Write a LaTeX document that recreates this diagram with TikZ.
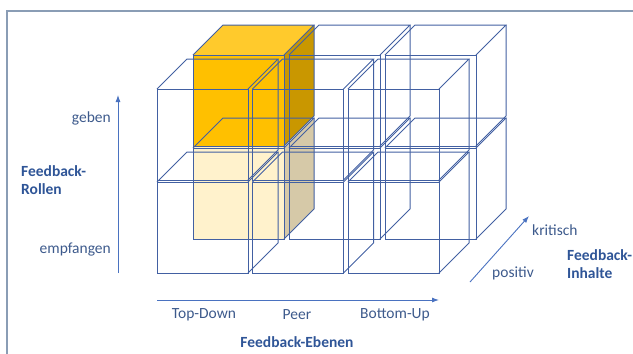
\documentclass[tikz,border=0pt]{standalone}
\usepackage{fontspec}
\setmainfont{Carlito}
\usetikzlibrary{arrows.meta}
\definecolor{cubeblue}{HTML}{4260A2}
\definecolor{axisblue}{HTML}{4A72C0}
\definecolor{lblblue}{HTML}{3D5A8C}
\definecolor{headblue}{HTML}{2F5597}
\definecolor{framec}{HTML}{8A9DB5}
\definecolor{goldfront}{HTML}{FFC000}
\definecolor{goldtop}{HTML}{FFCA2C}
\definecolor{goldside}{HTML}{C99700}
\definecolor{paleFront}{HTML}{FFF2CC}
\definecolor{paleSide}{HTML}{D6C9A8}

% cube: front face top-left corner (#1,#2), size 91, depth 30
\newcommand\cubeedges[2]{%
  \draw[edge] (#1,#2) rectangle ++(91,91);
  \draw[edge] (#1,#2) -- ++(30,-30) -- ++(91,0) -- ++(-30,30);
  \draw[edge] ({#1+91},{#2+91}) -- ++(30,-30) -- ++(0,-91);
}
\newcommand\cubefill[5]{%
  \fill[#5] (#1,#2) -- ++(30,-30) -- ++(91,0) -- ++(-30,30) -- cycle;
  \fill[#4] ({#1+91},#2) -- ++(30,-30) -- ++(0,91) -- ++(-30,30) -- cycle;
  \fill[#3] (#1,#2) rectangle ++(91,91);
}

\begin{document}
\begin{tikzpicture}[x=1pt,y=-1pt,
  edge/.style={draw=cubeblue, line width=1pt, line join=miter},
  axis/.style={draw=axisblue, line width=0.9pt, -{Latex[length=7pt,width=5pt]}},
  lbl/.style={text=lblblue, font=\fontsize{15.5}{18}\selectfont, inner sep=0pt},
  head/.style={text=headblue, font=\fontsize{15.5}{18}\selectfont\bfseries, inner sep=0pt, align=left},
]
\useasboundingbox (0,0) rectangle (633,354);

% outer frame (top and left edges)
\draw[framec, line width=1.3pt] (7,354) -- (7,11) -- (633,11);

% coloured cubes in the back layer
\cubefill{193}{148}{paleFront}{paleSide}{paleFront}
\cubefill{193}{55}{goldfront}{goldside}{goldtop}

% back layer (kritisch)
\foreach \c in {0,1,2} {
  \foreach \r in {0,1} {
    \pgfmathsetmacro\X{193+96*\c}
    \pgfmathsetmacro\Y{55+93*\r}
    \cubeedges{\X}{\Y}
  }
}
% front layer (positiv)
\foreach \c in {0,1,2} {
  \foreach \r in {0,1} {
    \pgfmathsetmacro\X{157+95.5*\c}
    \pgfmathsetmacro\Y{89+93*\r}
    \cubeedges{\X}{\Y}
  }
}

% vertical axis: Feedback-Rollen
\coordinate (vA) at (118,273);
\coordinate (vB) at (118,95);
\draw[axis] (vA) -- (vB);
\node[lbl, anchor=east] (geben) at (111,118) {geben};
\node[lbl, anchor=east] (empf) at (111,250) {empfangen};
\node[head, anchor=west] (rollen) at (21,180) {Feedback-\\Rollen};

% horizontal axis: Feedback-Ebenen
\coordinate (hA) at (157,300);
\coordinate (hB) at (439,300);
\draw[axis] (hA) -- (hB);
\node[lbl] (td) at (204,315) {Top-Down};
\node[lbl] (peer) at (297,315) {Peer};
\node[lbl] (bu) at (395,315) {Bottom-Up};
\node[head] (ebenen) at (297,342) {Feedback-Ebenen};

% depth axis: Feedback-Inhalte
\coordinate (dA) at (470,282);
\coordinate (dB) at (529,216);
\draw[axis] (dA) -- (dB);
\node[lbl, anchor=west] (krit) at (532,230) {kritisch};
\node[lbl, anchor=west] (pos) at (492,273) {positiv};
\node[head, anchor=west] (inhalte) at (567,264) {Feedback-\\Inhalte};
\end{tikzpicture}
\end{document}
